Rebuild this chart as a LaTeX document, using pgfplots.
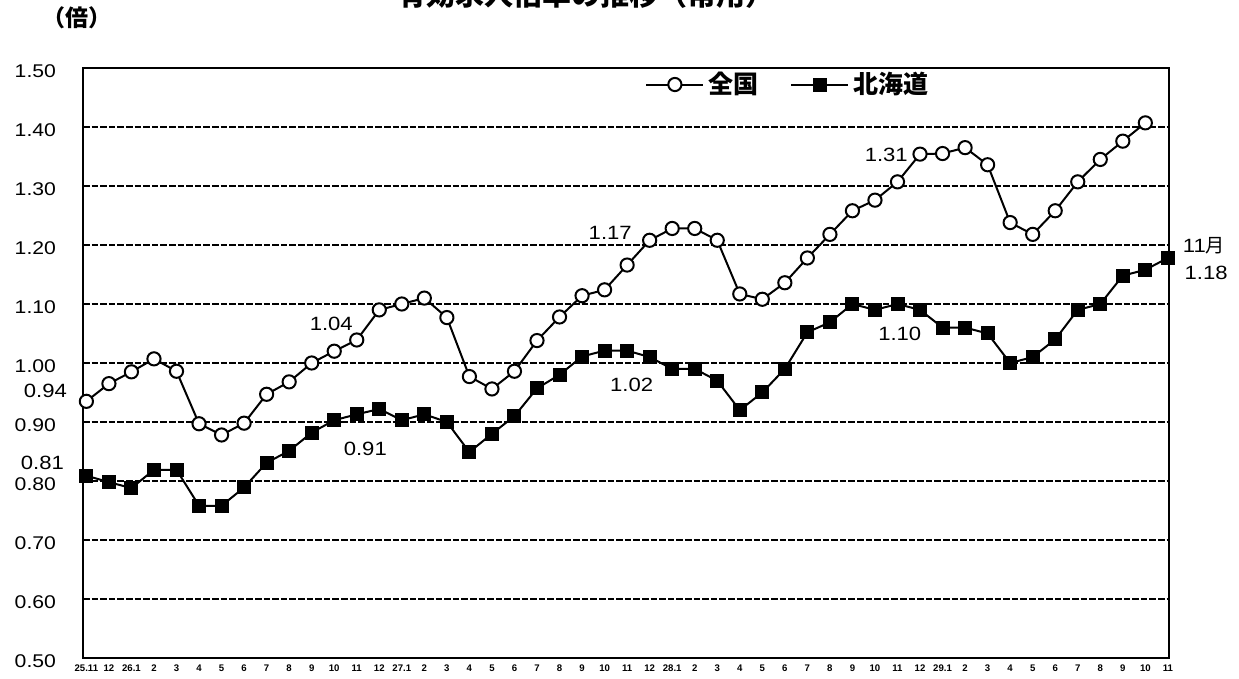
\documentclass[border=0pt]{standalone}
\usepackage{fontspec}
\usepackage{graphicx}
\usepackage{pgfplots}
\pgfplotsset{compat=1.18}
\setmainfont{Liberation Sans}
\newfontfamily\jp{Noto Sans CJK JP}
\newcommand{\wide}[1]{\scalebox{1.15}[1]{#1}}
\begin{document}
\begin{tikzpicture}
\begin{axis}[
  at={(0,0)}, anchor=south west,
  scale only axis, width=543pt, height=295pt,
  xmin=-0.15, xmax=48.05, ymin=0.5, ymax=1.5,
  clip=false,
  /pgf/number format/assume math mode=true,
  ytick={0.5,0.6,0.7,0.8,0.9,1.0,1.1,1.2,1.3,1.4,1.5},
  yticklabel={\wide{\pgfmathprintnumber[fixed,fixed zerofill,precision=2]{\tick}}},
  yticklabel style={font=\fontsize{9.2}{10}\selectfont, xshift=-10pt, yshift=-1.5pt},
  xtick={0,...,48},
  xticklabels={25.11,12,26.1,2,3,4,5,6,7,8,9,10,11,12,27.1,2,3,4,5,6,7,8,9,10,11,12,28.1,2,3,4,5,6,7,8,9,10,11,12,29.1,2,3,4,5,6,7,8,9,10,11},
  xticklabel style={font=\fontsize{4.8}{5}\selectfont\bfseries},
  major tick length=0pt,
  ymajorgrids,
  grid style={black, line width=0.8pt, dash pattern=on 3.3pt off 1pt},
  axis line style={line width=1.3pt},
  legend columns=2,
  legend style={at={(0.512,0.972)}, anchor=west, draw=none, fill=none,
    font=\jp\bfseries\fontsize{12.5}{14}\selectfont,
    /tikz/every even column/.append style={column sep=14pt}},
  legend image code/.code={\draw[mark repeat=2,mark phase=2,#1] plot coordinates {(0cm,0cm) (0.5cm,0cm) (1.0cm,0cm)};},
]
\addplot[black, line width=1pt, mark=*, mark size=3.3pt, mark options={fill=white, draw=black, line width=1pt}]
coordinates {
(0,0.935)(1,0.965)(2,0.985)(3,1.007)(4,0.986)(5,0.897)(6,0.878)(7,0.898)(8,0.947)(9,0.968)
(10,1.00)(11,1.02)(12,1.039)(13,1.09)(14,1.10)(15,1.11)(16,1.077)(17,0.977)(18,0.956)(19,0.986)
(20,1.038)(21,1.078)(22,1.114)(23,1.124)(24,1.166)(25,1.208)(26,1.228)(27,1.228)(28,1.208)(29,1.117)
(30,1.108)(31,1.136)(32,1.178)(33,1.218)(34,1.258)(35,1.276)(36,1.307)(37,1.354)(38,1.355)(39,1.365)
(40,1.336)(41,1.238)(42,1.218)(43,1.258)(44,1.307)(45,1.345)(46,1.376)(47,1.407)
};
\addlegendentry{全国}
\addplot[black, line width=1pt, mark=square*, mark size=3pt, mark options={fill=black, draw=black}]
coordinates {
(0,0.809)(1,0.798)(2,0.788)(3,0.819)(4,0.819)(5,0.758)(6,0.758)(7,0.789)(8,0.831)(9,0.851)
(10,0.882)(11,0.903)(12,0.913)(13,0.922)(14,0.903)(15,0.913)(16,0.90)(17,0.849)(18,0.88)(19,0.91)
(20,0.957)(21,0.98)(22,1.011)(23,1.021)(24,1.021)(25,1.01)(26,0.99)(27,0.99)(28,0.97)(29,0.92)
(30,0.95)(31,0.99)(32,1.052)(33,1.069)(34,1.10)(35,1.09)(36,1.10)(37,1.09)(38,1.06)(39,1.06)
(40,1.05)(41,1.00)(42,1.01)(43,1.04)(44,1.09)(45,1.10)(46,1.148)(47,1.158)(48,1.178)
};
\addlegendentry{北海道}
\begin{scope}[every node/.style={font=\fontsize{9.6}{11}\selectfont, inner sep=0pt}]
\node at (axis cs:-1.82,0.953) {\wide{0.94}};
\node at (axis cs:-1.95,0.830) {\wide{0.81}};
\node at (axis cs:10.87,1.067) {\wide{1.04}};
\node at (axis cs:12.38,0.854) {\wide{0.91}};
\node at (axis cs:23.25,1.220) {\wide{1.17}};
\node at (axis cs:24.20,0.963) {\wide{1.02}};
\node at (axis cs:35.50,1.352) {\wide{1.31}};
\node at (axis cs:36.10,1.049) {\wide{1.10}};
\node at (axis cs:49.60,1.198) {\wide{11}{\jp 月}};
\node at (axis cs:49.70,1.152) {\wide{1.18}};
\end{scope}
\end{axis}
\node[font=\jp\bfseries\fontsize{14.5}{16}\selectfont, inner sep=0pt] at (251.5pt,332pt) {有効求人倍率の推移（常用）};
\node[font=\jp\bfseries\fontsize{11.5}{13}\selectfont, inner sep=0pt] at (-3pt,320pt) {（倍）};
\pgfresetboundingbox
\path[use as bounding box] (-41.5pt,-10.5pt) rectangle (578pt,329pt);
\end{tikzpicture}
\end{document}
